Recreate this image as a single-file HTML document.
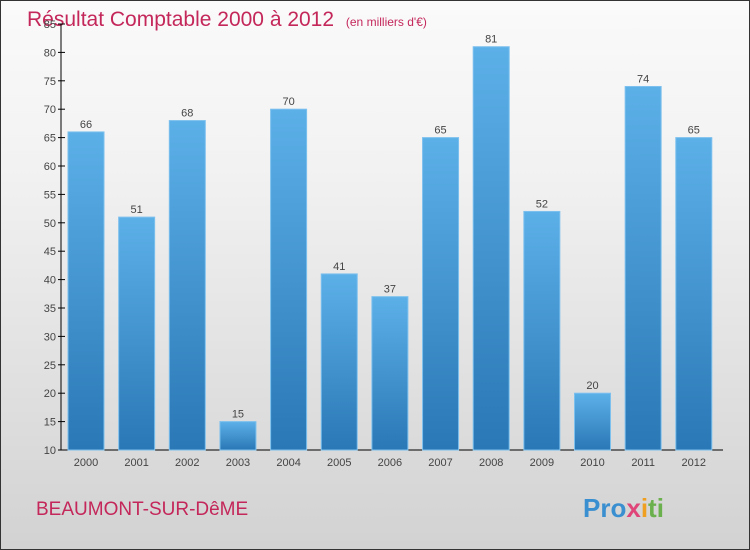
<!DOCTYPE html>
<html><head><meta charset="utf-8"><style>
body{margin:0}
#wrap{width:748px;height:548px;border:1px solid #333;background:linear-gradient(#fafafa,#f2f2f2 30%,#d2d2d2);position:relative;overflow:hidden;font-family:"Liberation Sans",sans-serif}
</style></head><body>
<div id="wrap">
<svg id="c" width="748" height="548">
<defs><linearGradient id="bg" x1="0" y1="0" x2="0" y2="1"><stop offset="0" stop-color="#5cb0e8"/><stop offset="1" stop-color="#2a78b6"/></linearGradient></defs>
<text x="26" y="25" font-size="21" fill="#c4275a">Résultat Comptable 2000 à 2012 <tspan font-size="12" dx="6">(en milliers d'€)</tspan></text>
<text x="35" y="514" font-size="19" fill="#c4275a">BEAUMONT-SUR-DêME</text>
<text x="582" y="516" font-size="26" font-weight="bold" fill="#3a8fd0"><tspan fill="#3a8fd0">Pro</tspan><tspan fill="#e0457a">x</tspan><tspan fill="#f0a020">i</tspan><tspan fill="#6ab04c">ti</tspan></text>
<g id="plot"></g>
</svg></div>
<script>
const years=["2000","2001","2002","2003","2004","2005","2006","2007","2008","2009","2010","2011","2012"];
const values=[66,51,68,15,70,41,37,65,81,52,20,74,65];
const yTicks=[10,15,20,25,30,35,40,45,50,55,60,65,70,75,80,85];
const ns="http://www.w3.org/2000/svg";
const g=document.getElementById('plot');
const y=v=>449-(v-10)*(426/75);
const x=i=>85+i*50.65;
function mk(t,a){const e=document.createElementNS(ns,t);for(const k in a)e.setAttribute(k,a[k]);g.appendChild(e);return e;}
let ax=mk('line',{x1:60,y1:23,x2:60,y2:449,stroke:'#000'});


let bx=mk('line',{x1:60,y1:449,x2:722,y2:449,stroke:'#000'});


yTicks.forEach(v=>{
 let tk=mk('line',{x1:57,y1:y(v),x2:64,y2:y(v),stroke:'#000'});
 
 
 let t=mk('text',{x:55,y:y(v)+4,'font-size':11,'text-anchor':'end',fill:'#444'});t.textContent=v;
 
 
});
years.forEach((yr,i)=>{
 const v=values[i];
 let r=mk('rect',{x:x(i)-18,y:y(v),width:36,height:449-y(v),fill:'url(#bg)',stroke:'#7cc0ee','stroke-width':1});
 
 
 let l=mk('text',{x:x(i),y:y(v)-4,'font-size':11,'text-anchor':'middle',fill:'#444'});l.textContent=v;
 
 
 let t=mk('text',{x:x(i),y:465,'font-size':11,'text-anchor':'middle',fill:'#444'});t.textContent=yr;
 
 
});
</script>
</body></html>
